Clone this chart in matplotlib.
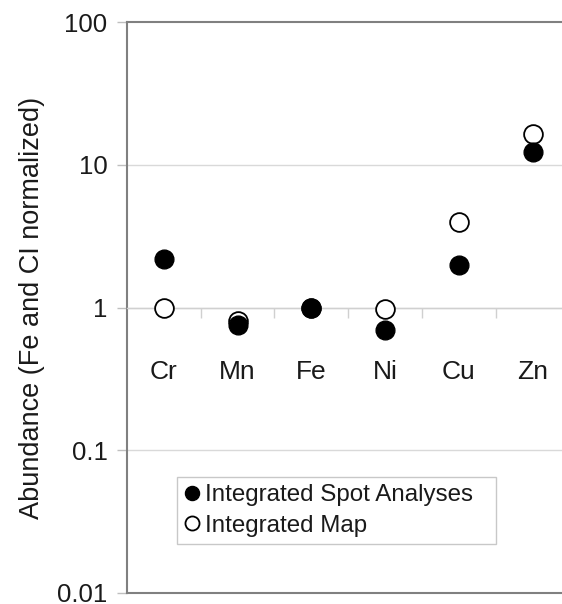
import matplotlib
matplotlib.use('Agg')
import matplotlib.pyplot as plt
from matplotlib.ticker import FixedLocator, FixedFormatter, NullLocator

plt.rcParams['font.family'] = ['Liberation Sans', 'DejaVu Sans']

# data
elements = ['Cr', 'Mn', 'Fe', 'Ni', 'Cu', 'Zn']
spot = [2.2, 0.76, 1.0, 0.70, 2.0, 12.3]
imap = [1.0, 0.80, 1.0, 0.98, 4.0, 16.4]
yticks = [0.01, 0.1, 1, 10, 100]
ytick_labels = ['0.01', '0.1', '1', '10', '100']

W, H = 562, 604
fig = plt.figure(figsize=(W / 100, H / 100), dpi=100)
ax = fig.add_axes([127 / W, 1 - 593 / H, 1 - 127 / W, (593 - 22) / H])

xs = list(range(len(elements)))
h_map, = ax.plot(xs, imap, 'o', ms=13.5, mfc='white', mec='black', mew=1.3,
                 ls='none', zorder=3, label='Integrated Map')
h_spot, = ax.plot(xs, spot, 'o', ms=13.5, mfc='black', mec='black',
                  ls='none', zorder=4, label='Integrated Spot Analyses')

ax.set_yscale('log')
ax.set_ylim(0.01, 100)
ax.set_xlim(-0.5, 5.4)

# y axis
ax.yaxis.set_major_locator(FixedLocator(yticks))
ax.yaxis.set_major_formatter(FixedFormatter(ytick_labels))
ax.yaxis.set_minor_locator(NullLocator())
ax.tick_params(axis='y', which='major', length=7, width=1, color='#bfbfbf',
               labelsize=18.5, pad=7, labelcolor='#1a1a1a')
ax.set_ylabel('Abundance (Fe and CI normalized)', fontsize=19.5, color='#1a1a1a',
              labelpad=9)

# gridlines
for v in [0.1, 1, 10]:
    ax.axhline(v, color='#d9d9d9', lw=1, zorder=1)

# x axis crosses at y = 1, category labels under it
ax.spines['bottom'].set_position(('data', 1))
ax.spines['bottom'].set_color('#d0d0d0')
ax.spines['bottom'].set_linewidth(1)
ax.xaxis.set_major_locator(FixedLocator([x + 0.5 for x in xs[:-1]]))
ax.xaxis.set_major_formatter(FixedFormatter([''] * (len(xs) - 1)))
ax.xaxis.set_minor_locator(FixedLocator(xs))
ax.xaxis.set_minor_formatter(FixedFormatter(elements))
ax.tick_params(axis='x', which='major', length=7, width=1, color='#d0d0d0')
ax.tick_params(axis='x', which='minor', length=0, labelsize=19, pad=38,
               labelcolor='#1a1a1a')

# frame: left, top, line at the bottom
for s in ['left', 'top']:
    ax.spines[s].set_color('#808080')
    ax.spines[s].set_linewidth(1.5)
ax.spines['right'].set_visible(False)
ax.axhline(0.01, color='#808080', lw=1.5, clip_on=False, zorder=2)

leg = ax.legend(handles=[h_spot, h_map], loc='upper left',
                bbox_to_anchor=(50 / 435, 0, 319 / 435, 116 / 571),
                mode='expand', borderaxespad=0, fontsize=17.4, markerscale=0.75,
                handlelength=0.6, handletextpad=0.25, borderpad=0.3,
                labelspacing=0.35, fancybox=False, edgecolor='#c8c8c8',
                framealpha=1)
leg.get_frame().set_linewidth(1)
for t in leg.get_texts():
    t.set_color('#1a1a1a')

fig.savefig('out.png', dpi=100)
